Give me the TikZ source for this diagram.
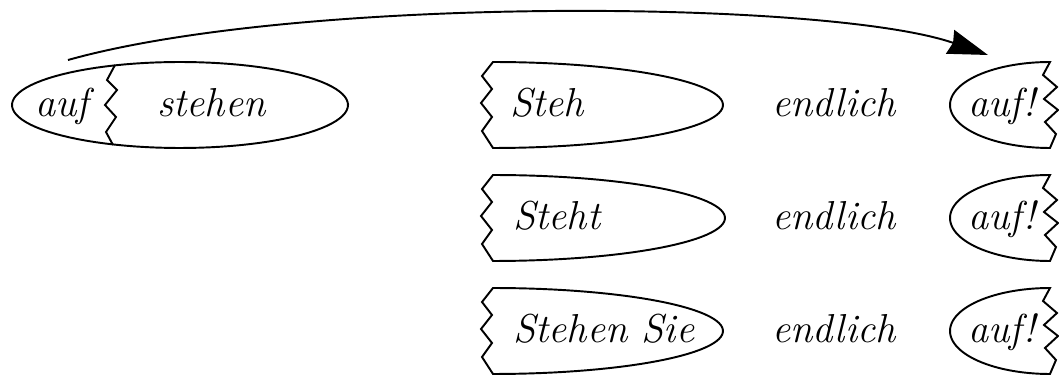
\documentclass[tikz,border=0pt]{standalone}
\usetikzlibrary{arrows.meta}

\begin{document}
\begin{tikzpicture}[x=0.02cm,y=-0.02cm,
    every node/.style={inner sep=0pt,anchor=base west,font=\fontsize{23}{28}\selectfont\itshape},
    part/.style={line width=1.1pt},
    bow/.style={line width=1.1pt,-{Stealth[length=8mm,width=5mm,inset=0.6mm]}}
    ]
    \useasboundingbox (0,0) rectangle (1059,378);

    % the whole verb
    \draw[part] plot[domain=0:360,samples=100] ({180+168*cos(\x)},{105+43*sin(\x)}) -- cycle;
    \draw[part] (115,65) -- (107,80) -- (117,90) -- (105,105) -- (116,117) -- (106,132) -- (113,145);
    \node (auf) at (35,117) {auf};
    \node (stehen) at (157,117) {stehen};

    % the stems
    \draw[part,shift={(493,105)}] plot[domain=-90:90,samples=60] ({230*cos(\x)},{43*sin(\x)})
        -- (-11,26) -- (-1,12) -- (-12,-2) -- (-1,-16) -- (-11,-29) -- cycle;
    \draw[part,shift={(493,218)}] plot[domain=-90:90,samples=60] ({232*cos(\x)},{43*sin(\x)})
        -- (-11,26) -- (-1,12) -- (-12,-2) -- (-1,-16) -- (-11,-29) -- cycle;
    \draw[part,shift={(493,331)}] plot[domain=-90:90,samples=60] ({230*cos(\x)},{43*sin(\x)})
        -- (-11,26) -- (-1,12) -- (-12,-2) -- (-1,-16) -- (-11,-29) -- cycle;
    \node (steh) at (510,117) {Steh};
    \node (steht) at (513,230) {Steht};
    \node (stehensie) at (513,343) {Stehen Sie};

    % the adverb
    \node (endl1) at (772,117) {endlich};
    \node (endl2) at (772,230) {endlich};
    \node (endl3) at (772,343) {endlich};

    % the prefixes
    \draw[part,shift={(1050,105)}] plot[domain=90:270,samples=60] ({100*cos(\x)},{43*sin(\x)})
        -- (-7,-30) -- (7,-18) -- (-6,-6) -- (8,5) -- (-5,17) -- (6,29) -- cycle;
    \draw[part,shift={(1050,218)}] plot[domain=90:270,samples=60] ({100*cos(\x)},{43*sin(\x)})
        -- (-7,-30) -- (7,-18) -- (-6,-6) -- (8,5) -- (-5,17) -- (6,29) -- cycle;
    \draw[part,shift={(1050,331)}] plot[domain=90:270,samples=60] ({100*cos(\x)},{43*sin(\x)})
        -- (-7,-30) -- (7,-18) -- (-6,-6) -- (8,5) -- (-5,17) -- (6,29) -- cycle;
    \node (auf1) at (968,117) {auf!};
    \node (auf2) at (968,230) {auf!};
    \node (auf3) at (968,343) {auf!};

    % the move
    \coordinate (from) at (68,60);
    \coordinate (to) at (988,55);
    \draw[bow] (from) .. controls (300,-5) and (830,0) .. (to);
\end{tikzpicture}
\end{document}
